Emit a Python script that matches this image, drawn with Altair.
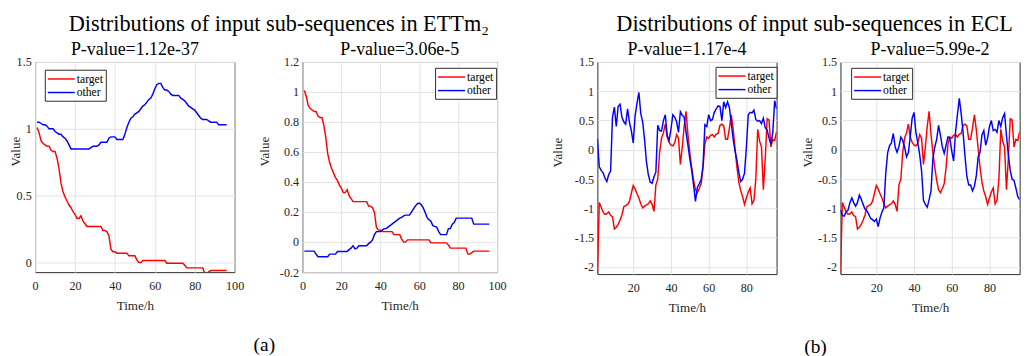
import altair as alt
import pandas as pd

hours = list(range(1, 97))

# ETTm2: target series (shared by both ETTm2 panels)
ett_target = [1.01, 0.97, 0.91, 0.89, 0.88, 0.87, 0.87, 0.84, 0.83, 0.83,
              0.78, 0.70, 0.59, 0.53, 0.49, 0.46, 0.43, 0.41, 0.38, 0.36,
              0.33, 0.33, 0.35, 0.31, 0.29, 0.27, 0.27, 0.27, 0.27, 0.27,
              0.27, 0.27, 0.27, 0.24, 0.24, 0.23, 0.20, 0.10, 0.08, 0.08,
              0.07, 0.07, 0.07, 0.07, 0.07, 0.07, 0.05, 0.05, 0.05, 0.05,
              0.02, 0.00, 0.00, 0.015, 0.015, 0.015, 0.015, 0.015, 0.015, 0.015,
              0.015, 0.015, 0.015, 0.015, 0.015, -0.005, -0.005, -0.005, -0.005, -0.005,
              -0.005, -0.005, -0.005, -0.005, -0.02, -0.04, -0.04, -0.04, -0.04, -0.04,
              -0.04, -0.04, -0.04, -0.04, -0.08, -0.08, -0.07, -0.06, -0.06, -0.06,
              -0.06, -0.06, -0.06, -0.06, -0.06, -0.06]

# ETTm2 panel 1: other series
ett_other_1 = [1.05, 1.05, 1.04, 1.03, 1.03, 1.02, 1.00, 1.00, 1.00, 0.98,
               0.97, 0.96, 0.96, 0.94, 0.93, 0.91, 0.88, 0.85, 0.85, 0.85,
               0.85, 0.85, 0.85, 0.85, 0.85, 0.85, 0.85, 0.86, 0.87, 0.87,
               0.87, 0.88, 0.90, 0.90, 0.90, 0.90, 0.93, 0.94, 0.94, 0.94,
               0.92, 0.92, 0.92, 0.92, 0.96, 1.01, 1.05, 1.08, 1.09, 1.11,
               1.12, 1.13, 1.15, 1.17, 1.18, 1.20, 1.22, 1.23, 1.26, 1.30,
               1.33, 1.34, 1.34, 1.31, 1.29, 1.29, 1.28, 1.26, 1.25, 1.25,
               1.25, 1.25, 1.23, 1.22, 1.21, 1.19, 1.17, 1.16, 1.15, 1.14,
               1.12, 1.10, 1.08, 1.07, 1.07, 1.07, 1.06, 1.05, 1.05, 1.05,
               1.05, 1.03, 1.03, 1.03, 1.03, 1.03]

# ETTm2 panel 2: other series
ett_other_2 = [-0.06, -0.06, -0.06, -0.06, -0.06, -0.06, -0.08, -0.097, -0.097, -0.097,
               -0.097, -0.097, -0.097, -0.08, -0.08, -0.08, -0.08, -0.063, -0.063, -0.063,
               -0.063, -0.063, -0.063, -0.05, -0.04, -0.024, -0.045, -0.04, -0.024, -0.024,
               -0.024, -0.024, -0.024, -0.01, 0.0, 0.015, 0.05, 0.07, 0.07, 0.07,
               0.08, 0.09, 0.09, 0.10, 0.11, 0.12, 0.13, 0.14, 0.15, 0.16,
               0.165, 0.175, 0.18, 0.18, 0.18, 0.20, 0.22, 0.24, 0.255, 0.26,
               0.25, 0.23, 0.20, 0.165, 0.15, 0.14, 0.11, 0.105, 0.10, 0.07,
               0.05, 0.05, 0.05, 0.05, 0.09, 0.09, 0.12, 0.13, 0.16, 0.16,
               0.16, 0.16, 0.16, 0.16, 0.16, 0.16, 0.16, 0.12, 0.12, 0.12,
               0.12, 0.12, 0.12, 0.12, 0.12, 0.12]

# ECL: target series (shared by both ECL panels)
ecl_target = [-2.12, -0.90, -0.98, -1.06, -1.10, -1.09, -1.06, -1.12, -1.14, -1.35,
              -1.32, -1.27, -1.20, -1.11, -0.97, -0.95, -0.93, -0.88, -0.74, -0.61,
              -0.67, -0.75, -0.82, -0.92, -0.99, -0.96, -0.94, -0.92, -0.87, -0.93,
              -1.05, -0.60, -0.50, -0.04, 0.20, 0.29, 0.44, 0.22, 0.13, 0.08,
              0.07, 0.12, 0.26, 0.20, -0.25, 0.05, 0.40, 0.66, 0.26, -0.05,
              -0.30, -0.52, -0.68, -0.73, -0.66, -0.58, -0.30, 0.10, 0.22, 0.20,
              0.25, 0.26, 0.22, 0.27, 0.28, 0.42, 0.44, 0.41, 0.18, 0.18,
              0.37, 0.60, 0.35, 0.02, -0.30, -0.55, -0.70, -0.80, -0.93, -0.82,
              -0.72, -0.65, -0.92, -0.86, -0.50, 0.35, 0.15, 0.05, -0.68, -0.15,
              0.53, 0.51, 0.05, 0.18, 0.16, 0.31]

# ECL panel 1: other series
ecl_other_1 = [0.19, -0.29, -0.35, -0.39, -0.48, -0.54, -0.42, -0.36, 0.56, 0.73,
               0.40, 0.74, 0.78, 0.56, 0.48, 0.44, 0.70, 0.47, 0.33, 0.12,
               0.58, 0.80, 0.98, 0.62, 0.48, 0.18, -0.20, -0.42, -0.55, -0.57,
               -0.46, -0.38, 0.42, 0.33, 0.32, 0.50, 0.60, 0.25, 0.16, 0.35,
               0.60, 0.56, 0.48, 0.30, 0.65, 0.59, 0.56, 0.30, 0.08, -0.15,
               -0.35, -0.60, -0.88, -0.64, -0.58, -0.51, -0.28, 0.43, 0.40, 0.60,
               0.50, 0.52, 0.64, 0.70, 0.75, 0.74, 0.50, 0.82, 0.72, 0.82,
               0.72, 0.45, 0.18, -0.02, -0.18, -0.38, -0.54, -0.50, -0.40, 0.05,
               0.60, 0.64, 0.63, 0.68, 0.52, 0.49, 0.50, 0.45, 0.54, 0.38,
               0.34, 0.20, 0.10, 0.30, 0.84, 0.70]

# ECL panel 2: other series
ecl_other_2 = [-1.02, -1.12, -1.13, -1.06, -1.03, -0.90, -0.82, -0.90, -0.96, -0.90,
               -0.77, -0.84, -0.93, -1.01, -1.04, -1.10, -1.17, -1.19, -1.22, -1.18,
               -1.31, -1.16, -1.06, -0.99, -0.40, -0.05, 0.07, 0.12, 0.28, 0.05,
               -0.04, 0.06, 0.22, 0.16, 0.05, -0.12, -0.05, 0.23, 0.54, 0.64,
               0.30, 0.12, -0.08, -0.36, -0.86, -0.93, -0.98, -0.85, -0.70, -0.15,
               0.05, 0.18, 0.42, 0.25, 0.05, -0.06, 0.08, 0.22, 0.20, -0.02,
               -0.19, 0.30, 0.60, 0.88, 0.62, 0.30, -0.10, -0.45, -0.60, -0.60,
               -0.70, -0.62, -0.45, -0.12, -0.04, 0.25, 0.33, 0.08, 0.20, 0.40,
               0.50, 0.33, 0.35, 0.30, 0.50, 0.40, 0.55, 0.62, 0.25, -0.08,
               -0.35, -0.50, -0.52, -0.65, -0.80, -0.85]

SERIES = ["target", "other"]
SERIES_COLORS = ["#ff0000", "#0000ff"]
FONT = "Liberation Serif"
INK = "#262626"

ett_x_ticks = [0, 20, 40, 60, 80, 100]
ecl_x_ticks = [20, 40, 60, 80]
ett1_y_ticks = [0, 0.5, 1, 1.5]
ett2_y_ticks = [-0.2, 0, 0.2, 0.4, 0.6, 0.8, 1, 1.2]
ecl_y_ticks = [-2, -1.5, -1, -0.5, 0, 0.5, 1, 1.5]


def panel(target, other, pvalue, xdomain, xticks, ydomain, yticks,
          width, height, legend_x, legend_y, y_extent, title_y):
    df = pd.DataFrame({
        "Time": hours + hours,
        "Value": target + other,
        "Series": ["target"] * len(hours) + ["other"] * len(hours),
    })
    return alt.Chart(df).mark_line(strokeWidth=1.5, clip=True).encode(
        x=alt.X("Time:Q",
                scale=alt.Scale(domain=xdomain, nice=False, zero=False),
                axis=alt.Axis(values=xticks, title="Time/h",
                              labelExpr="'' + datum.value",
                              labelFlush=False, labelOverlap=False,
                              labelPadding=8, titlePadding=7.5)),
        y=alt.Y("Value:Q",
                scale=alt.Scale(domain=ydomain, nice=False, zero=False),
                axis=alt.Axis(values=yticks, title="Value",
                              labelExpr="'' + datum.value",
                              labelFlush=False, labelOverlap=False,
                              labelPadding=4, minExtent=y_extent,
                              maxExtent=y_extent, titlePadding=0,
                              titleY=title_y)),
        color=alt.Color("Series:N",
                        scale=alt.Scale(domain=SERIES, range=SERIES_COLORS),
                        legend=alt.Legend(title=None, orient="none",
                                          legendX=legend_x, legendY=legend_y)),
    ).properties(
        width=width, height=height,
        title=alt.TitleParams(pvalue, fontSize=18.5, font=FONT,
                              fontWeight="normal", color="black",
                              offset=-2, anchor="middle", frame="group"),
    )


p1 = panel(ett_target, ett_other_1, "P-value=1.12e-37", [0, 100], ett_x_ticks,
           [-0.072, 1.5], ett1_y_ticks, 206, 217, 10, 8, 13, 92)
p2 = panel(ett_target, ett_other_2, "P-value=3.06e-5", [0, 100], ett_x_ticks,
           [-0.2, 1.2], ett2_y_ticks, 201, 217, 137, 6, 32, 92)
p3 = panel(ecl_target, ecl_other_1, "P-value=1.17e-4", [1, 96], ecl_x_ticks,
           [-2.12, 1.5], ecl_y_ticks, 185, 219, 122, 5, 33.6, 93)
p4 = panel(ecl_target, ecl_other_2, "P-value=5.99e-2", [1, 96], ecl_x_ticks,
           [-2.12, 1.5], ecl_y_ticks, 185, 219, 11, 6, 26.6, 93)


def independent(c):
    return c.resolve_scale(x="independent", y="independent", color="independent") \
            .resolve_legend(color="independent")


def group(left, right, spacing, label, label_dx, heading, heading_dx):
    inner = independent(alt.hconcat(
        left, right, spacing=spacing,
        title=alt.TitleParams(label, orient="bottom", anchor="middle",
                              fontSize=20, font=FONT, fontWeight="normal",
                              color="black", offset=23, dx=label_dx)))
    return independent(alt.vconcat(
        inner,
        title=alt.TitleParams(heading, anchor="middle", fontSize=23, font=FONT,
                              fontWeight="normal", color="black", offset=4,
                              dx=heading_dx)))


group_a = group(p1, p2, 13, "(a)", 7,
                "Distributions of input sub-sequences in ETTm\u2082", 22)
group_b = group(p3, p4, 23, "(b)", 31,
                "Distributions of input sub-sequences in ECL", 30)

chart = independent(alt.hconcat(group_a, group_b, spacing=44.6)).properties(
    padding=0,
    background="white",
).configure_axis(
    grid=True, gridColor="#e2e2e2", gridWidth=1, domain=False, ticks=False,
    tickSize=0, labelFont=FONT, labelFontSize=12.5, labelColor=INK,
    titleFont=FONT, titleFontSize=13.5, titleFontWeight="normal", titleColor=INK,
).configure_view(
    stroke=INK, strokeWidth=1,
).configure_legend(
    labelFont=FONT, labelFontSize=12, labelColor="black",
    symbolType="M-1,0H3.3", symbolSize=169, symbolStrokeWidth=1.5,
    labelOffset=16, padding=2, rowPadding=0, fillColor="white",
    strokeColor=INK,
)

chart.save("out.html", embed_options={"renderer": "svg", "actions": False})
